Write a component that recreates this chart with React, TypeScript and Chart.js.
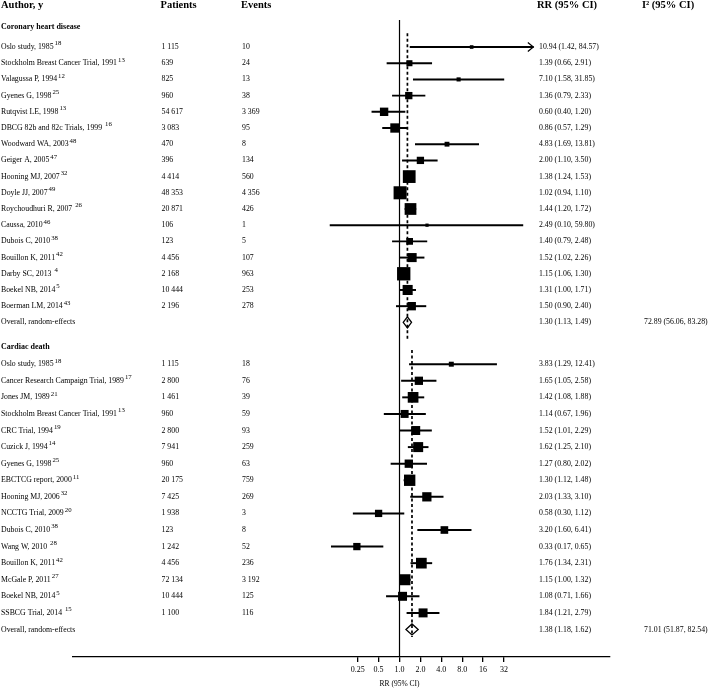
import React, { useEffect, useRef } from "react";
import { Chart, registerables } from "chart.js";

Chart.register(...registerables);

// ---------- axis ----------
const TICK_VALUES = [0.25, 0.5, 1, 2, 4, 8, 16, 32];
const TICK_LABELS = ["0.25", "0.5", "1.0", "2.0", "4.0", "8.0", "16", "32"];
const AXIS_TITLE = "RR (95% CI)";

// ---------- column headers ----------
const HEADERS = ["Author, y", "Patients", "Events", "RR (95% CI)", "I\u00B2 (95% CI)"];
const OVERALL_LABEL = "Overall, random-effects";

// ---------- Coronary heart disease ----------
const CHD_TITLE = "Coronary heart disease";
const CHD_STUDIES = [
  "Oslo study, 1985",
  "Stockholm Breast Cancer Trial, 1991",
  "Valagussa P, 1994",
  "Gyenes G, 1998",
  "Rutqvist LE, 1998",
  "DBCG 82b and 82c Trials, 1999 ",
  "Woodward WA, 2003",
  "Geiger A, 2005",
  "Hooning MJ, 2007",
  "Doyle JJ, 2007",
  "Roychoudhuri R, 2007 ",
  "Caussa, 2010",
  "Dubois C, 2010",
  "Bouillon K, 2011",
  "Darby SC, 2013 ",
  "Boekel NB, 2014",
  "Boerman LM, 2014",
];
const CHD_REFS = ["18", "13", "12", "25", "13", "16", "48", "47", "32", "49", "26", "46", "38", "42", "4", "5", "43"];
const CHD_PATIENTS = [1115, 639, 825, 960, 54617, 3083, 470, 396, 4414, 48353, 20871, 106, 123, 4456, 2168, 10444, 2196];
const CHD_EVENTS = [10, 24, 13, 38, 3369, 95, 8, 134, 560, 4356, 426, 1, 5, 107, 963, 253, 278];
const CHD_RR = [10.94, 1.39, 7.1, 1.36, 0.6, 0.86, 4.83, 2.0, 1.38, 1.02, 1.44, 2.49, 1.4, 1.52, 1.15, 1.31, 1.5];
const CHD_LO = [1.42, 0.66, 1.58, 0.79, 0.4, 0.57, 1.69, 1.1, 1.24, 0.94, 1.2, 0.1, 0.79, 1.02, 1.06, 1.0, 0.9];
const CHD_HI = [84.57, 2.91, 31.85, 2.33, 1.2, 1.29, 13.81, 3.5, 1.53, 1.1, 1.72, 59.8, 2.48, 2.26, 1.3, 1.71, 2.4];
const CHD_WEIGHT = [1.0, 2.8, 1.3, 4.1, 5.4, 6.7, 1.8, 4.1, 12.5, 13.1, 10.6, 0.8, 3.5, 6.3, 13.7, 7.8, 5.4];
const CHD_OVERALL = [1.3, 1.13, 1.49];
const CHD_I2 = [72.89, 56.06, 83.28];
const CHD_ARROWS = [0];

// ---------- Cardiac death ----------
const CD_TITLE = "Cardiac death";
const CD_STUDIES = [
  "Oslo study, 1985",
  "Cancer Research Campaign Trial, 1989",
  "Jones JM, 1989",
  "Stockholm Breast Cancer Trial, 1991",
  "CRC Trial, 1994",
  "Cuzick J, 1994",
  "Gyenes G, 1998",
  "EBCTCG report, 2000",
  "Hooning MJ, 2006",
  "NCCTG Trial, 2009",
  "Dubois C, 2010",
  "Wang W, 2010 ",
  "Bouillon K, 2011",
  "McGale P, 2011",
  "Boekel NB, 2014",
  "SSBCG Trial, 2014 ",
];
const CD_REFS = ["18", "17", "21", "13", "19", "14", "25", "11", "32", "20", "38", "28", "42", "27", "5", "15"];
const CD_PATIENTS = [1115, 2800, 1461, 960, 2800, 7941, 960, 20175, 7425, 1938, 123, 1242, 4456, 72134, 10444, 1100];
const CD_EVENTS = [18, 76, 39, 59, 93, 259, 63, 759, 269, 3, 8, 52, 236, 3192, 125, 116];
const CD_RR = [3.83, 1.65, 1.42, 1.14, 1.52, 1.62, 1.27, 1.3, 2.03, 0.58, 3.2, 0.33, 1.76, 1.15, 1.08, 1.84];
const CD_LO = [1.29, 1.05, 1.08, 0.67, 1.01, 1.25, 0.8, 1.12, 1.33, 0.3, 1.6, 0.17, 1.34, 1.0, 0.71, 1.21];
const CD_HI = [12.41, 2.58, 1.88, 1.96, 2.29, 2.1, 2.02, 1.48, 3.1, 1.12, 6.41, 0.65, 2.31, 1.32, 1.66, 2.79];
const CD_WEIGHT = [1.9, 5.3, 8.8, 4.9, 6.2, 7.7, 5.3, 9.9, 6.6, 4.1, 4.5, 4.1, 8.8, 9.3, 6.2, 6.2];
const CD_OVERALL = [1.38, 1.18, 1.62];
const CD_I2 = [71.01, 51.87, 82.54];
const CD_ARROWS: number[] = [];

// ---------- helpers ----------
const FONT = "'Liberation Serif', 'Times New Roman', Times, serif";
const L = (v: number) => Math.log2(v);
const fmtInt = (n: number) => String(n).replace(/\B(?=(\d{3})+(?!\d))/g, " ");
const fmtCI = (e: number, l: number, h: number) => `${e.toFixed(2)} (${l.toFixed(2)}, ${h.toFixed(2)})`;

type Section = {
  title: string;
  labels: string[];
  refs: string[];
  patients: number[];
  events: number[];
  rr: number[];
  lo: number[];
  hi: number[];
  weight: number[];
  overall: number[];
  i2: number[];
  arrows: number[];
  xAxisID: string;
  yAxisID: string;
  dashEnd: number;
  titleRow: number;
};

const SECTIONS: Section[] = [
  {
    title: CHD_TITLE, labels: CHD_STUDIES, refs: CHD_REFS, patients: CHD_PATIENTS, events: CHD_EVENTS,
    rr: CHD_RR, lo: CHD_LO, hi: CHD_HI, weight: CHD_WEIGHT, overall: CHD_OVERALL, i2: CHD_I2,
    arrows: CHD_ARROWS, xAxisID: "x", yAxisID: "y", dashEnd: 1.1, titleRow: -0.25,
  },
  {
    title: CD_TITLE, labels: CD_STUDIES, refs: CD_REFS, patients: CD_PATIENTS, events: CD_EVENTS,
    rr: CD_RR, lo: CD_LO, hi: CD_HI, weight: CD_WEIGHT, overall: CD_OVERALL, i2: CD_I2,
    arrows: CD_ARROWS, xAxisID: "x2", yAxisID: "y2", dashEnd: 0.45, titleRow: -0.07,
  },
];

const forestPlugin = {
  id: "forest",
  beforeDatasetsDraw(chart: any) {
    const { ctx, chartArea } = chart;
    const px = chart.scales.x.getPixelForValue(0);
    ctx.save();
    ctx.strokeStyle = "#000";
    ctx.lineWidth = 1.2;
    ctx.beginPath();
    ctx.moveTo(px, chartArea.top);
    ctx.lineTo(px, chartArea.bottom);
    ctx.stroke();
    ctx.restore();
  },
  afterDatasetsDraw(chart: any) {
    const { ctx } = chart;
    ctx.save();
    SECTIONS.forEach((s) => {
      const xs = chart.scales[s.xAxisID];
      const ys = chart.scales[s.yAxisID];
      const rowO = s.labels.length + 1;
      ctx.strokeStyle = "#000";
      ctx.lineWidth = 1.2;
      ctx.setLineDash([]);
      s.arrows.forEach((i) => {
        const xh = xs.getPixelForValue(L(s.hi[i]));
        const y = ys.getPixelForValue(i + 1);
        ctx.beginPath();
        ctx.moveTo(xh - 5.5, y - 4.5);
        ctx.lineTo(xh, y);
        ctx.lineTo(xh - 5.5, y + 4.5);
        ctx.stroke();
      });
      const [e, l, h] = s.overall;
      const yO = ys.getPixelForValue(rowO);
      const xe = xs.getPixelForValue(L(e));
      const xl = xs.getPixelForValue(L(l));
      const xhh = xs.getPixelForValue(L(h));
      const dh = 5.5;
      ctx.beginPath();
      ctx.moveTo(xl, yO);
      ctx.lineTo(xe, yO - dh);
      ctx.lineTo(xhh, yO);
      ctx.lineTo(xe, yO + dh);
      ctx.closePath();
      ctx.fillStyle = "#fff";
      ctx.fill();
      ctx.lineWidth = 1.3;
      ctx.stroke();
      ctx.beginPath();
      ctx.setLineDash([3, 2.5]);
      ctx.lineWidth = 1.7;
      ctx.moveTo(xe, ys.getPixelForValue(0.15));
      ctx.lineTo(xe, ys.getPixelForValue(rowO + s.dashEnd));
      ctx.stroke();
      ctx.setLineDash([]);
    });
    ctx.restore();
  },
  afterDraw(chart: any) {
    const { ctx, chartArea } = chart;
    const yHead = chart.scales.y.getPixelForValue(-1.6);
    const colX = [1, 160.5, 241, 537, 642];
    ctx.save();
    ctx.fillStyle = "#000";
    ctx.textBaseline = "middle";
    ctx.textAlign = "left";
    ctx.font = `bold 10.5px ${FONT}`;
    HEADERS.forEach((t, i) => ctx.fillText(t, colX[i], yHead));

    SECTIONS.forEach((s) => {
      const ys = chart.scales[s.yAxisID];
      ctx.font = `bold 8px ${FONT}`;
      ctx.fillText(s.title, 1, ys.getPixelForValue(s.titleRow));
      s.labels.forEach((lab, i) => {
        const y = ys.getPixelForValue(i + 1);
        ctx.font = `7.8px ${FONT}`;
        ctx.fillText(lab, 1, y);
        const w = ctx.measureText(lab).width;
        ctx.fillText(fmtInt(s.patients[i]), 161.5, y);
        ctx.fillText(fmtInt(s.events[i]), 242, y);
        ctx.fillText(fmtCI(s.rr[i], s.lo[i], s.hi[i]), 539, y);
        ctx.font = `6.8px ${FONT}`;
        ctx.fillText(s.refs[i], 1 + w + 1, y - 3.4);
      });
      const yO = ys.getPixelForValue(s.labels.length + 1);
      ctx.font = `7.8px ${FONT}`;
      ctx.fillText(OVERALL_LABEL, 1, yO);
      ctx.fillText(fmtCI(s.overall[0], s.overall[1], s.overall[2]), 539, yO);
      ctx.fillText(fmtCI(s.i2[0], s.i2[1], s.i2[2]), 644, yO);
    });

    ctx.font = `7.5px ${FONT}`;
    ctx.textAlign = "center";
    ctx.fillText(AXIS_TITLE, chart.scales.x.getPixelForValue(0), chartArea.bottom + 27);
    ctx.restore();
  },
};

export default function App() {
  const ref = useRef<HTMLCanvasElement>(null);

  useEffect(() => {
    const datasets: any[] = [];
    SECTIONS.forEach((s) => {
      datasets.push({
        type: "bar",
        indexAxis: "y",
        xAxisID: s.xAxisID,
        yAxisID: s.yAxisID,
        data: s.rr.map((_, i) => ({ x: [L(s.lo[i]), L(s.hi[i])], y: i + 1 })),
        backgroundColor: "#000",
        borderWidth: 0,
        barThickness: 1.3,
        grouped: false,
        order: 2,
      });
      datasets.push({
        type: "scatter",
        xAxisID: s.xAxisID,
        yAxisID: s.yAxisID,
        data: s.rr.map((v, i) => ({ x: L(v), y: i + 1 })),
        pointStyle: "rect",
        pointRadius: s.weight.map((w) => 2.55 * Math.sqrt(w)),
        backgroundColor: "#000",
        borderColor: "#000",
        borderWidth: 0,
        order: 1,
      });
    });

    const chart = new Chart(ref.current as HTMLCanvasElement, {
      type: "scatter",
      data: { datasets },
      options: {
        animation: false,
        responsive: false,
        devicePixelRatio: 1,
        events: [],
        layout: { padding: { left: 73, right: 99, top: 20, bottom: 11.4 } },
        plugins: { legend: { display: false }, tooltip: { enabled: false } },
        scales: {
          x: {
            type: "linear",
            position: "bottom",
            offset: false,
            beginAtZero: false,
            min: -15.62,
            max: 10.07,
            afterBuildTicks: (scale: any) => {
              scale.ticks = TICK_VALUES.map((v) => ({ value: L(v) }));
            },
            ticks: {
              autoSkip: false,
              maxRotation: 0,
              minRotation: 0,
              padding: 3,
              color: "#000",
              font: { family: FONT, size: 8 },
              callback: (_v: any, i: number) => TICK_LABELS[i],
            },
            grid: { display: true, offset: false, drawOnChartArea: false, drawTicks: true, tickLength: 5, color: "#000", lineWidth: 1.3 },
            border: { display: true, color: "#000", width: 1.3 },
          },
          x2: { type: "linear", position: "bottom", display: false, offset: false, beginAtZero: false, min: -12.23, max: 7.88 },
          y: { type: "linear", position: "left", display: false, offset: false, grid: { offset: false }, reverse: true, min: -0.668, max: 38.66 },
          y2: { type: "linear", position: "left", display: false, offset: false, grid: { offset: false }, reverse: true, min: -19.76, max: 18.66 },
        },
      } as any,
      plugins: [forestPlugin],
    });
    return () => chart.destroy();
  }, []);

  return (
    <div style={{ position: "fixed", left: 0, top: 0, width: 709, height: 689, background: "#fff" }}>
      <canvas ref={ref} width={709} height={689} style={{ display: "block" }} />
    </div>
  );
}
